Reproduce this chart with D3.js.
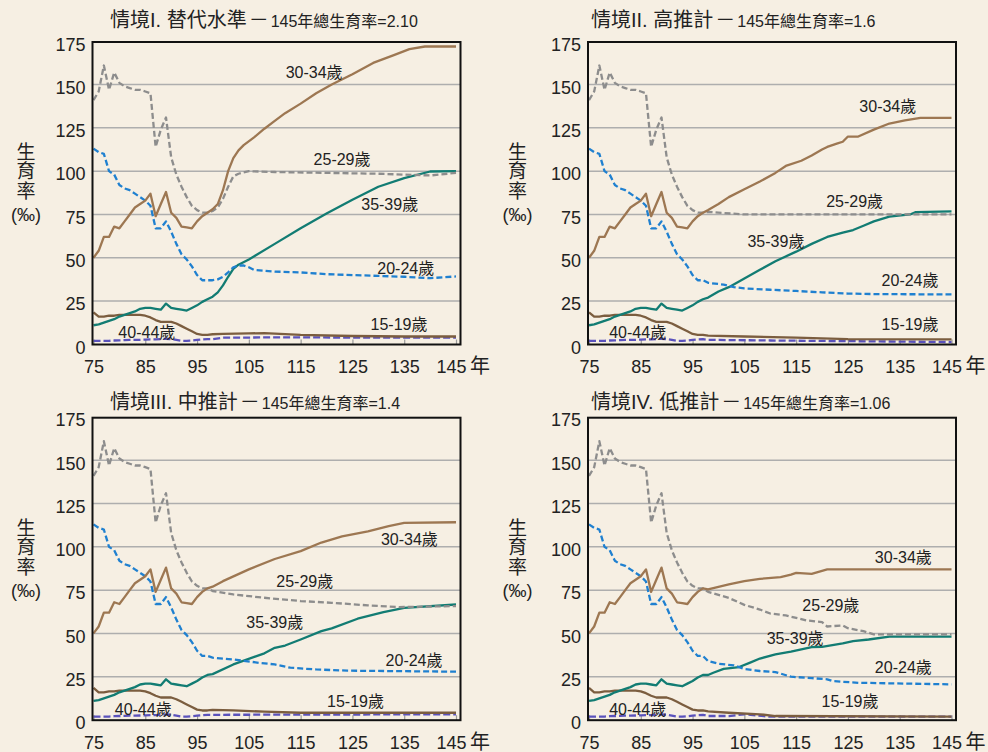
<!DOCTYPE html>
<html>
<head>
<meta charset="utf-8">
<script src="https://cdn.jsdelivr.net/npm/d3@7"></script>
<style>
html, body { margin: 0; padding: 0; background: #f6efe3; }
svg { display: block; font-family: "Liberation Sans", "Noto Sans CJK TC", sans-serif; }
</style>
</head>
<body>
<div id="chart"></div>
<script>
// axis ticks
const xTicks = [75, 85, 95, 105, 115, 125, 135, 145];
const yTicks = [0, 25, 50, 75, 100, 125, 150, 175];

// observed years 75-97 (shared by all four scenarios)
const histYears = [75,76,77,78,79,80,81,82,83,84,85,86,87,88,89,90,91,92,93,94,95,96,97];
const h1519 = [18.5,16,16,16.5,16.5,17,17,17,17,17,16.5,15.5,14,13,13,13,12,10.5,9,7.5,6,5.5,5.5];
const h2024 = [113,111,110,100,98,92,90,89,87,85,83,80,67,67,71,65,58,52,49,45,40,37,37];
const h2529 = [141,146,161,147,157,151,149,148,147,147,146,145,114,124,131,108,98,91,85,80,77.5,76,76];
const h3034 = [50,54,62,62,68,67,71,75,79,81,83,87,74,81,88,76,73,68,67.5,67,71,74,76];
const h3539 = [11,11.5,12.5,13.5,14.5,16,17,18,19,20.5,21,21,20.5,20,23.5,21,20.5,20,19.5,21,22.5,24.5,26];
const h4044 = [2,2,2,2,2.2,2.3,2.4,2.5,2.5,2.6,2.7,2.8,2.8,3,3.2,3,2.5,2,2,2.2,2.5,2.8,3];

// scenario I projections [year, value]
const p1_1519 = [[98,5.8],[100,6],[105,6.3],[108,6.5],[115,5.5],[125,4.8],[135,4.5],[145,4.5]];
const p1_2024 = [[98,37],[99,37.5],[100,39],[101,41.5],[102,44.5],[103,45.5],[104,45.5],[105,44.5],[106,43],[110,42],[115,41.5],[120,40.5],[125,40],[130,39.5],[135,39],[140,38.2],[145,39.2]];
const p1_2529 = [[98,77],[99,79],[100,84],[101,91],[102,97],[103,98.5],[105,100],[110,99.5],[120,99],[130,98.5],[135,98],[140,97.5],[145,99]];
const p1_3034 = [[98,78],[99,81],[100,89],[101,100],[102,107.5],[103,112],[104,115],[106,119.5],[108,124.5],[110,129],[112,133.5],[115,139],[118,145],[121,150],[125,156],[129,162.5],[133,167],[136,170.5],[139,172],[145,172]];
const p1_3539 = [[98,27.5],[99,30],[100,34],[101,39],[102,43.5],[103,46],[105,49],[110,58],[115,67],[120,75.5],[125,83.5],[130,91],[135,96],[140,99.8],[145,100]];
const p1_4044 = [[98,3],[100,3.8],[110,4],[145,3.8]];

// scenario II projections
const p2_1519 = [[98,5],[105,4.5],[115,3.8],[125,3],[145,2.8]];
const p2_2024 = [[98,35.5],[101,34.5],[103,33],[105,32.3],[110,31.5],[115,30.8],[120,30],[125,29.3],[130,29],[145,28.8]];
const p2_2529 = [[98,76.5],[100,76],[105,75],[145,75]];
const p2_3034 = [[98,77.5],[100,81],[102,85],[105,89.5],[108,94],[111,99],[113,103],[116,106],[118,109],[120,112.5],[121,114],[123,116],[124,117],[125,120],[127,120],[130,124],[133,127.5],[136,129.3],[139,130.8],[145,130.8]];
const p2_3539 = [[98,27],[100,30.5],[102,33],[105,38],[108,43],[111,48],[115,53.5],[118,58],[121,62],[124,64.5],[126,66],[128,68.5],[130,71],[133,73.7],[137,75],[138,76.3],[145,76.8]];
const p2_4044 = [[98,2.5],[100,2.5],[110,2.2],[145,1.3]];

// scenario III projections
const p3_1519 = [[98,5.8],[102,5.6],[108,4.8],[115,4.2],[145,4.2]];
const p3_2024 = [[98,36],[102,35],[107,33],[110,32.1],[113,30.2],[118,29.2],[124,28.5],[145,27.9]];
const p3_2529 = [[98,74.5],[102,72.5],[108,70.6],[115,68.7],[121,67.7],[128,66.2],[134,65.2],[145,65.8]];
const p3_3034 = [[98,77],[100,80.2],[105,87],[110,93],[115,97.5],[119,102.5],[123,106],[128,109],[132,112],[135,113.8],[145,114.2]];
const p3_3539 = [[98,26.5],[102,32.1],[108,38.5],[110,41.7],[112,43],[115,46.5],[119,51.3],[121,52.9],[126,58.5],[131,62.3],[135,64.8],[145,66.7]];
const p3_4044 = [[98,3],[145,3.3]];

// scenario IV projections
const p4_1519 = [[98,5],[102,4.2],[108,3.3],[111,2.3],[145,1.9]];
const p4_2024 = [[98,34],[100,32.5],[103,31.5],[105,29.5],[108,28.3],[111,27.7],[114,25],[118,24.2],[121,23.5],[122,22.5],[127,21.5],[145,20.6]];
const p4_2529 = [[98,74],[102,70.5],[105,66.5],[108,63.8],[110,61.5],[113,60.4],[117,57.5],[120,56.5],[121,54],[124,54.6],[125,53],[128,51.3],[130,49.5],[145,49.4]];
const p4_3034 = [[98,75.4],[102,78.3],[105,80.2],[108,81.5],[112,82.5],[114,84],[115,85],[118,84.4],[121,87],[145,87]];
const p4_3539 = [[98,26],[99,27.3],[101,29.5],[104,30.6],[106,33],[108,35.5],[111,37.9],[114,39.5],[118,42.1],[120,42.3],[124,44.2],[126,45.6],[129,46.5],[133,48.1],[145,48.1]];
const p4_4044 = [[98,2.3],[102,2.3],[105,3.3],[110,1.9],[145,1.9]];

// age groups
const groups = ["40-44", "15-19", "35-39", "20-24", "25-29", "30-34"];
const history = {"15-19": h1519, "20-24": h2024, "25-29": h2529, "30-34": h3034, "35-39": h3539, "40-44": h4044};
const style = {
  "15-19": {color: "#7b5d3f", dash: null},
  "20-24": {color: "#1f80d0", dash: "6,3"},
  "25-29": {color: "#8d8d8d", dash: "6,3"},
  "30-34": {color: "#9d7752", dash: null},
  "35-39": {color: "#127c73", dash: null},
  "40-44": {color: "#5a52bc", dash: "7,3"}
};

const panels = [
  {name: "情境I. 替代水準", tfr: "145年總生育率=2.10", dx: 0, dy: 0, tx: 110, ty: 27, lx: 26,
   proj: {"15-19": p1_1519, "20-24": p1_2024, "25-29": p1_2529, "30-34": p1_3034, "35-39": p1_3539, "40-44": p1_4044},
   labels: {"30-34": [117.6, 157], "25-29": [123, 107], "35-39": [132.2, 81], "20-24": [135.3, 44], "15-19": [134, 11.7], "40-44": [85.3, 7.1]}},
  {name: "情境II. 高推計", tfr: "145年總生育率=1.6", dx: 495.5, dy: 0, tx: 95.5, ty: 27, lx: 22,
   proj: {"15-19": p2_1519, "20-24": p2_2024, "25-29": p2_2529, "30-34": p2_3034, "35-39": p2_3539, "40-44": p2_4044},
   labels: {"30-34": [132.7, 137.5], "25-29": [126.3, 82.7], "35-39": [111.1, 59.8], "20-24": [137, 37.1], "15-19": [137, 11.7], "40-44": [84.4, 6.9]}},
  {name: "情境III. 中推計", tfr: "145年總生育率=1.4", dx: 0, dy: 375.7, tx: 110, ty: 33, lx: 26,
   proj: {"15-19": p3_1519, "20-24": p3_2024, "25-29": p3_2529, "30-34": p3_3034, "35-39": p3_3539, "40-44": p3_4044},
   labels: {"30-34": [136, 104.2], "25-29": [115.8, 80.2], "35-39": [110, 56.2], "20-24": [136.9, 34.6], "15-19": [125.6, 11], "40-44": [84.6, 6.2]}},
  {name: "情境IV. 低推計", tfr: "145年總生育率=1.06", dx: 495.5, dy: 375.7, tx: 95.5, ty: 33, lx: 22,
   proj: {"15-19": p4_1519, "20-24": p4_2024, "25-29": p4_2529, "30-34": p4_3034, "35-39": p4_3539, "40-44": p4_4044},
   labels: {"30-34": [135.7, 94], "25-29": [121.7, 66.2], "35-39": [114.8, 47.5], "20-24": [135.7, 30.2], "15-19": [125.4, 11], "40-44": [84.4, 6.2]}}
];

const width = 988, height = 752;
const frame = {left: 92.5, top: 42, right: 460.5, bottom: 344.5};

const svg = d3.select("#chart").append("svg")
  .attr("width", width)
  .attr("height", height);

svg.append("rect").attr("width", width).attr("height", height).attr("fill", "#f6efe3");

const x = d3.scaleLinear().domain([75, 145]).range([93.5, 456]);
const y = d3.scaleLinear().domain([0, 175]).range([344.3, 41.3]);

const line = d3.line().x(d => x(d[0])).y(d => y(d[1]));

panels.forEach(p => {
  const g = svg.append("g").attr("transform", `translate(${p.dx},${p.dy})`);

  // gridlines
  g.selectAll(".grid")
    .data(yTicks.filter(v => v > 0 && v < 175))
    .enter().append("line")
    .attr("x1", frame.left).attr("x2", frame.right)
    .attr("y1", d => y(d)).attr("y2", d => y(d))
    .attr("stroke", "#aeaeae").attr("stroke-width", 1.5);

  // x axis (ticks point inward)
  const xa = g.append("g")
    .attr("transform", `translate(0,${frame.bottom})`)
    .call(d3.axisBottom(x).tickValues(xTicks).tickSizeInner(-5).tickSizeOuter(0).tickPadding(16));
  xa.select(".domain").remove();
  xa.selectAll("line").attr("stroke", "#999").attr("stroke-width", 1.2);
  xa.selectAll("text").attr("font-size", 18).attr("fill", "#222")
    .attr("font-family", "Liberation Sans, sans-serif")
    .attr("dx", d => d === 145 ? -5 : 0);

  // y axis
  const ya = g.append("g")
    .attr("transform", `translate(${frame.left},3)`)
    .call(d3.axisLeft(y).tickValues(yTicks).tickSize(0).tickPadding(7));
  ya.select(".domain").remove();
  ya.selectAll("text").attr("font-size", 18).attr("fill", "#222")
    .attr("font-family", "Liberation Sans, sans-serif");

  // series lines
  groups.forEach(k => {
    const pts = history[k].map((v, i) => [histYears[i], v]).concat(p.proj[k]);
    g.append("path")
      .datum(pts)
      .attr("fill", "none")
      .attr("stroke", style[k].color)
      .attr("stroke-width", 2.3)
      .attr("stroke-linejoin", "round")
      .attr("stroke-dasharray", style[k].dash)
      .attr("d", line);
  });

  // frame
  g.append("rect")
    .attr("x", frame.left).attr("y", frame.top)
    .attr("width", frame.right - frame.left).attr("height", frame.bottom - frame.top)
    .attr("fill", "none").attr("stroke", "#111").attr("stroke-width", 2);

  // series labels
  Object.entries(p.labels).forEach(([k, pos]) => {
    g.append("text")
      .attr("x", x(pos[0])).attr("y", y(pos[1]))
      .attr("dy", "0.36em")
      .attr("text-anchor", "middle")
      .attr("font-size", 16).attr("fill", "#222")
      .text(k + "歲");
  });

  // title
  const t = g.append("text").attr("x", p.tx).attr("y", p.ty).attr("fill", "#222");
  t.append("tspan").attr("font-size", 20).text(p.name);
  t.append("tspan").attr("font-size", 20).attr("dx", 2)
    .attr("font-family", "Noto Sans CJK TC, sans-serif").text("－");
  t.append("tspan").attr("font-size", 16).attr("dx", 2).text(p.tfr);

  // y label
  ["生", "育", "率"].forEach((c, i) => {
    g.append("text")
      .attr("x", p.lx).attr("y", 152 + i * 19.5).attr("dy", "0.36em")
      .attr("text-anchor", "middle").attr("font-size", 19).attr("fill", "#222")
      .text(c);
  });
  g.append("text")
    .attr("x", p.lx).attr("y", 215).attr("dy", "0.36em")
    .attr("text-anchor", "middle").attr("font-size", 18).attr("fill", "#222")
    .text("(‰)");

  // unit on x axis
  g.append("text")
    .attr("x", 480).attr("y", 366).attr("dy", "0.36em")
    .attr("text-anchor", "middle").attr("font-size", 20).attr("fill", "#222")
    .text("年");
});
</script>
</body>
</html>
